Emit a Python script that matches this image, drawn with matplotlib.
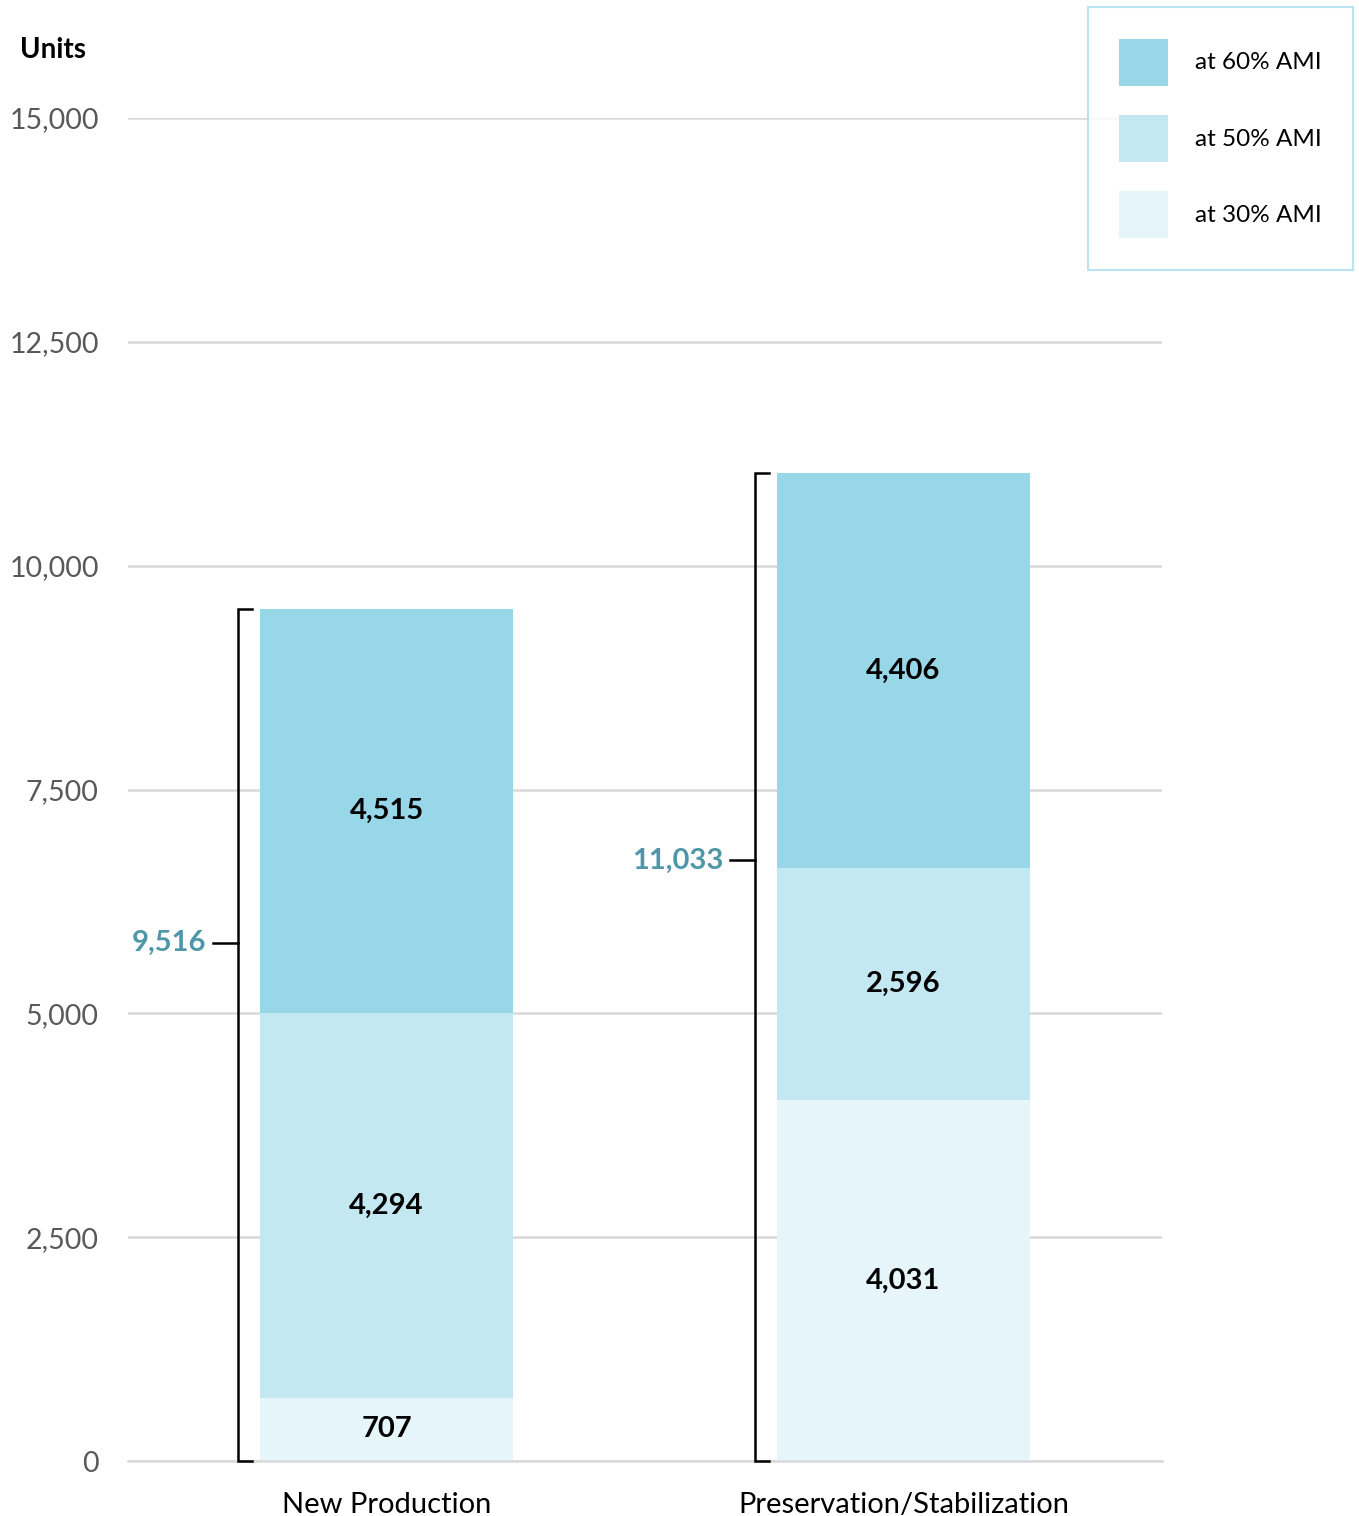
import matplotlib.pyplot as plt
from matplotlib.patches import Patch

plt.rcParams['font.family'] = ['Lato', 'DejaVu Sans']

# data
categories = ['New Production', 'Preservation/Stabilization']
ami30 = [707, 4031]
ami50 = [4294, 2596]
ami60 = [4515, 4406]
totals = ['9,516', '11,033']
total_vals = [9516, 11033]
series_names = ['at 30% AMI', 'at 50% AMI', 'at 60% AMI']
colors = ['#E6F5FA', '#C3E8F1', '#98D7E8']

fig = plt.figure(figsize=(13.59, 15.16), dpi=100)
ax = fig.add_axes([128/1359, 55/1516, 1034/1359, 1343/1516])

x = [0, 1]
w = 0.49
bottom = [0, 0]
for vals, col in zip([ami30, ami50, ami60], colors):
    ax.bar(x, vals, w, bottom=bottom, color=col, zorder=2)
    for xi, v, b in zip(x, vals, bottom):
        ax.text(xi, b + v / 2, f'{v:,}', ha='center', va='center',
                fontsize=21, fontweight='bold', color='black', zorder=3)
    bottom = [b + v for b, v in zip(bottom, vals)]

# brackets with totals
for xi, tot, lab in zip(x, total_vals, totals):
    bx = xi - 0.288
    ax.plot([bx + 0.028, bx, bx, bx + 0.028], [tot, tot, 0, 0],
            color='black', lw=1.8, zorder=3, clip_on=False, solid_joinstyle='miter')
    mid = tot * 0.608
    ax.plot([bx - 0.048, bx], [mid, mid], color='black', lw=1.8, zorder=3)
    ax.text(bx - 0.06, mid, lab, ha='right', va='center', fontsize=21,
            fontweight='bold', color='#4E97A8')

ax.set_xlim(-0.5, 1.5)
ax.set_ylim(0, 15000)
ax.set_yticks(range(0, 15001, 2500))
ax.set_yticklabels([f'{v:,}' for v in range(0, 15001, 2500)])
ax.yaxis.grid(True, color='#D9D9D9', lw=1.8, zorder=0)
ax.set_xticks(x)
ax.set_xticklabels(categories)
ax.tick_params(axis='y', length=0, pad=21, labelsize=20.5, labelcolor='#595959')
ax.tick_params(axis='x', length=0, pad=22, labelsize=21, labelcolor='black')
for s in ['top', 'right', 'left']:
    ax.spines[s].set_visible(False)
ax.spines['bottom'].set_color('#D9D9D9')
ax.spines['bottom'].set_linewidth(1.8)

fig.text(20/1359, 1 - 50/1516, 'Units', ha='left', va='center',
         fontsize=20, fontweight='bold')

handles = [Patch(facecolor=c, edgecolor='none') for c in colors[::-1]]
leg = fig.legend(handles, series_names[::-1], loc='upper right',
                 bbox_to_anchor=(1353/1359, 1 - 7/1516), fontsize=17.5,
                 handlelength=2.0, handleheight=2.6, handletextpad=1.1,
                 labelspacing=1.2, borderpad=1.3, borderaxespad=0,
                 fancybox=False, frameon=True)
leg.get_frame().set_edgecolor('#A8DDEA')
leg.get_frame().set_linewidth(1.5)

fig.savefig('out.png', dpi=100)
